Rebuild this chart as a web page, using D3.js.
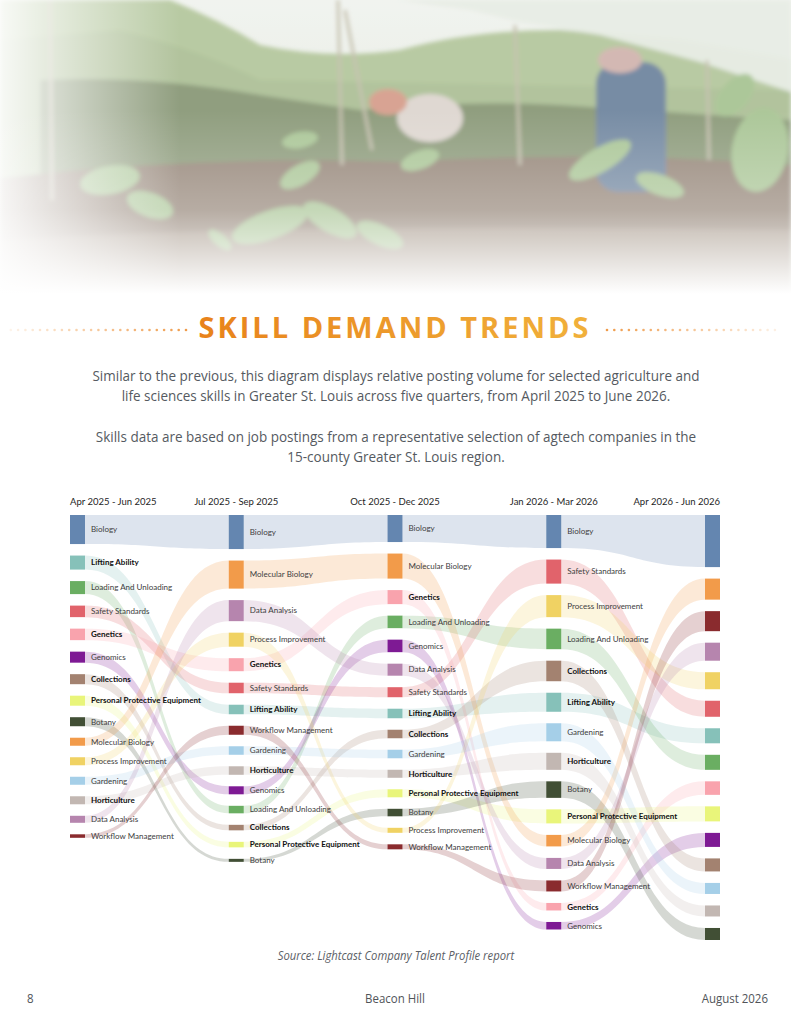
<!DOCTYPE html>
<html>
<head>
<meta charset="utf-8">
<script src="https://cdn.jsdelivr.net/npm/d3@7"></script>
<style>
  html, body { margin: 0; padding: 0; background: #fff; }
  svg { display: block; }
</style>
</head>
<body>
<script>
// quarters shown as columns
var quarters = ["Apr 2025 - Jun 2025", "Jul 2025 - Sep 2025", "Oct 2025 - Dec 2025", "Jan 2026 - Mar 2026", "Apr 2026 - Jun 2026"];

var skills = ["Biology", "Lifting Ability", "Loading And Unloading", "Safety Standards", "Genetics", "Genomics",
  "Collections", "Personal Protective Equipment", "Botany", "Molecular Biology", "Process Improvement",
  "Gardening", "Horticulture", "Data Analysis", "Workflow Management"];

var skillColors = ["#6486b0", "#86c1b9", "#6aae62", "#e1636b", "#f9a3ad", "#7e1a94",
  "#a38270", "#e9f57a", "#414f35", "#f29b4a", "#f0d263",
  "#a5cfe8", "#c2b7b2", "#b685ae", "#8a2b2e"];

var boldSkills = ["Lifting Ability", "Genetics", "Collections", "Personal Protective Equipment", "Horticulture"];

// relative posting volume per quarter, listed in ranked order (top to bottom)
var q1 = [["Biology", 29], ["Lifting Ability", 14], ["Loading And Unloading", 13], ["Safety Standards", 11.5],
  ["Genetics", 11.5], ["Genomics", 11], ["Collections", 10], ["Personal Protective Equipment", 10], ["Botany", 9],
  ["Molecular Biology", 8], ["Process Improvement", 8], ["Gardening", 8], ["Horticulture", 8],
  ["Data Analysis", 7], ["Workflow Management", 3.5]];
var q2 = [["Biology", 34], ["Molecular Biology", 28], ["Data Analysis", 21], ["Process Improvement", 14],
  ["Genetics", 13], ["Safety Standards", 10.5], ["Lifting Ability", 9.5], ["Workflow Management", 9],
  ["Gardening", 8.5], ["Horticulture", 8.5], ["Genomics", 8], ["Loading And Unloading", 7.5],
  ["Collections", 5.5], ["Personal Protective Equipment", 5.5], ["Botany", 3]];
var q3 = [["Biology", 27], ["Molecular Biology", 25], ["Genetics", 14], ["Loading And Unloading", 12.5],
  ["Genomics", 12.5], ["Data Analysis", 12], ["Safety Standards", 10], ["Lifting Ability", 9.5],
  ["Collections", 8.5], ["Gardening", 8.5], ["Horticulture", 8], ["Personal Protective Equipment", 8],
  ["Botany", 7.5], ["Process Improvement", 5], ["Workflow Management", 5]];
var q4 = [["Biology", 33], ["Safety Standards", 24], ["Process Improvement", 22], ["Loading And Unloading", 20.5],
  ["Collections", 20.5], ["Lifting Ability", 19], ["Gardening", 18], ["Horticulture", 17], ["Botany", 16.5],
  ["Personal Protective Equipment", 14], ["Molecular Biology", 11.5], ["Data Analysis", 11],
  ["Workflow Management", 11], ["Genetics", 7.5], ["Genomics", 7.5]];
var q5 = [["Biology", 52], ["Molecular Biology", 21], ["Workflow Management", 20], ["Data Analysis", 18],
  ["Process Improvement", 17], ["Safety Standards", 16], ["Lifting Ability", 15], ["Loading And Unloading", 15],
  ["Genetics", 13.5], ["Personal Protective Equipment", 15], ["Genomics", 14], ["Collections", 13],
  ["Gardening", 11], ["Horticulture", 11], ["Botany", 12]];

var quarterValues = [q1, q2, q3, q4, q5];

var pageWidth = 791;
var pageHeight = 1024;
var chartTop = 515;
var chartHeight = 425;
var nodePadding = 11.5;
var nodeWidth = 15;
var bodyFont = "'Open Sans', sans-serif";

var svg = d3.select("body").append("svg")
  .attr("width", pageWidth)
  .attr("height", pageHeight);

var defs = svg.append("defs");

// narrow text: the page font is a condensed face, so squeeze Open Sans horizontally
function narrowText(parent, x, y, anchor, size, squeeze, str) {
  return parent.append("text")
    .attr("x", x).attr("y", y)
    .attr("text-anchor", anchor)
    .attr("font-family", bodyFont)
    .attr("font-size", size)
    .attr("transform", "translate(" + x + ",0) scale(" + squeeze + ",1) translate(" + (-x) + ",0)")
    .text(str);
}

// ---------- header photo (soft approximation) ----------
var sky = defs.append("linearGradient").attr("id", "sky").attr("x1", 0).attr("y1", 0).attr("x2", 0).attr("y2", 1);
sky.append("stop").attr("offset", "0%").attr("stop-color", "#eef1ec");
sky.append("stop").attr("offset", "100%").attr("stop-color", "#d5ddcd");

var fadeDown = defs.append("linearGradient").attr("id", "fadeDown").attr("x1", 0).attr("y1", 0).attr("x2", 0).attr("y2", 1);
fadeDown.append("stop").attr("offset", "0%").attr("stop-color", "#fff").attr("stop-opacity", 0);
fadeDown.append("stop").attr("offset", "50%").attr("stop-color", "#fff").attr("stop-opacity", 0.3);
fadeDown.append("stop").attr("offset", "92%").attr("stop-color", "#fff").attr("stop-opacity", 1);
fadeDown.append("stop").attr("offset", "100%").attr("stop-color", "#fff").attr("stop-opacity", 1);

var fadeLeft = defs.append("linearGradient").attr("id", "fadeLeft").attr("x1", 0).attr("y1", 0).attr("x2", 1).attr("y2", 0);
fadeLeft.append("stop").attr("offset", "0%").attr("stop-color", "#fff").attr("stop-opacity", 0.9);
fadeLeft.append("stop").attr("offset", "100%").attr("stop-color", "#fff").attr("stop-opacity", 0);

defs.append("filter").attr("id", "soft").append("feGaussianBlur").attr("stdDeviation", 2.2);
defs.append("clipPath").attr("id", "photoClip").append("rect").attr("width", pageWidth).attr("height", 305);

var photo = svg.append("g").attr("id", "photo").attr("clip-path", "url(#photoClip)");
photo.append("rect").attr("width", pageWidth).attr("height", 310).attr("fill", "url(#sky)");

var scene = photo.append("g").attr("filter", "url(#soft)");
// distant hills
scene.append("path").attr("fill", "#a7bd8c")
  .attr("d", "M0,0 L170,0 Q220,20 260,45 Q330,60 400,50 Q470,30 560,30 L680,40 L791,60 L791,200 L0,200 Z");
scene.append("path").attr("fill", "#9db383").attr("opacity", 0.8)
  .attr("d", "M0,40 L120,30 Q200,50 260,80 L791,90 L791,200 L0,200 Z");
// hedge band
scene.append("path").attr("fill", "#75865f")
  .attr("d", "M40,80 Q150,75 260,95 L360,110 Q470,100 560,105 L791,120 L791,220 L40,220 Z");
// soil bed
scene.append("path").attr("fill", "#7f6c5b")
  .attr("d", "M0,178 Q200,155 400,162 Q600,150 791,165 L791,320 L0,320 Z");
scene.append("path").attr("fill", "#948271").attr("opacity", 0.8)
  .attr("d", "M0,240 Q300,222 791,230 L791,320 L0,320 Z");
// canopy sheet
scene.append("path").attr("fill", "#e3e9df").attr("opacity", 0.95)
  .attr("d", "M395,0 L791,0 L791,92 L700,62 L600,35 L520,22 L470,10 Z");
// poles
[[50, 0, 52, 200], [338, 0, 342, 165], [345, 10, 372, 150], [515, 25, 520, 165], [707, 60, 709, 160]].forEach(function(p) {
  scene.append("line").attr("x1", p[0]).attr("y1", p[1]).attr("x2", p[2]).attr("y2", p[3])
    .attr("stroke", "#b9b49e").attr("stroke-width", 3);
});
// workers
scene.append("ellipse").attr("cx", 430).attr("cy", 118).attr("rx", 33).attr("ry", 24).attr("fill", "#d8cfc7");
scene.append("ellipse").attr("cx", 388).attr("cy", 102).attr("rx", 19).attr("ry", 13).attr("fill", "#cf8d78");
scene.append("rect").attr("x", 596).attr("y", 62).attr("width", 70).attr("height", 130).attr("rx", 22).attr("fill", "#56708e");
scene.append("ellipse").attr("cx", 620).attr("cy", 60).attr("rx", 22).attr("ry", 13).attr("fill", "#c9a7a0");
// seedlings
[[270, 225, 40, 14, -20], [300, 175, 22, 10, -30], [330, 220, 30, 12, 30], [110, 180, 30, 14, -10], [150, 205, 24, 12, 20],
 [600, 160, 35, 12, -30], [735, 95, 25, 14, -50], [760, 150, 28, 42, 10], [660, 185, 25, 10, 20], [380, 235, 25, 10, 25],
 [300, 140, 18, 8, -10], [420, 160, 20, 9, -20], [220, 240, 14, 6, 40]].forEach(function(l) {
  scene.append("ellipse").attr("cx", l[0]).attr("cy", l[1]).attr("rx", l[2]).attr("ry", l[3])
    .attr("transform", "rotate(" + l[4] + "," + l[0] + "," + l[1] + ")")
    .attr("fill", "#98ba80");
});
photo.append("rect").attr("width", pageWidth).attr("height", 310).attr("fill", "#fff").attr("opacity", 0.2);
photo.append("rect").attr("width", 180).attr("height", 310).attr("fill", "url(#fadeLeft)");
photo.append("rect").attr("y", 110).attr("width", pageWidth).attr("height", 200).attr("fill", "url(#fadeDown)");

// ---------- title ----------
var titleGrad = defs.append("linearGradient").attr("id", "titleGrad").attr("x1", 0).attr("y1", 0).attr("x2", 1).attr("y2", 0);
titleGrad.append("stop").attr("offset", "0%").attr("stop-color", "#e8821b");
titleGrad.append("stop").attr("offset", "100%").attr("stop-color", "#f1b13b");

svg.append("text")
  .attr("x", 395).attr("y", 338)
  .attr("text-anchor", "middle")
  .attr("font-family", bodyFont)
  .attr("font-weight", 700)
  .attr("font-size", 29)
  .attr("letter-spacing", 3)
  .attr("fill", "url(#titleGrad)")
  .text("SKILL DEMAND TRENDS");

// dotted rules either side of the title
var dotsLeft = d3.range(186, 10, -7.3);
var dotsRight = d3.range(607, 782, 7.3);
var dotFade = d3.scaleLinear().domain([0, 24]).range([1, 0.12]);
svg.append("g").selectAll("circle").data(dotsLeft).enter().append("circle")
  .attr("cx", d => d).attr("cy", 330).attr("r", 1.3)
  .attr("fill", "#ef9b4a").attr("opacity", (d, i) => dotFade(i));
svg.append("g").selectAll("circle").data(dotsRight).enter().append("circle")
  .attr("cx", d => d).attr("cy", 330).attr("r", 1.3)
  .attr("fill", "#ef9b4a").attr("opacity", (d, i) => dotFade(i));

// intro paragraphs
var introLines = [
  "Similar to the previous, this diagram displays relative posting volume for selected agriculture and",
  "life sciences skills in Greater St. Louis across five quarters, from April 2025 to June 2026.",
  "Skills data are based on job postings from a representative selection of agtech companies in the",
  "15-county Greater St. Louis region."
];
var introY = [381, 401, 442, 462];
var intro = svg.append("g").attr("fill", "#555a61");
introLines.forEach(function(line, i) {
  narrowText(intro, 396, introY[i], "middle", 15, 0.9, line);
});

// ---------- bump / flow chart ----------
var xScale = d3.scalePoint()
  .domain(quarters)
  .range([70, 705]);

var columnTotals = quarterValues.map(q => d3.sum(q, d => d[1]));
var maxNodes = d3.max(quarterValues, q => q.length);
var yScale = d3.scaleLinear()
  .domain([0, d3.max(columnTotals)])
  .range([0, chartHeight - (maxNodes - 1) * nodePadding]);

var colorScale = d3.scaleOrdinal().domain(skills).range(skillColors);

// stack each quarter's nodes
var nodes = [];
quarterValues.forEach(function(q, qi) {
  var y = chartTop;
  q.forEach(function(d) {
    var h = yScale(d[1]);
    nodes.push({ skill: d[0], value: d[1], quarter: quarters[qi], qi: qi, x: xScale(quarters[qi]), y0: y, y1: y + h });
    y += h + nodePadding;
  });
});

function findNode(skill, qi) {
  return nodes.filter(n => n.skill == skill && n.qi == qi)[0];
}

var links = [];
for (var qi = 0; qi < quarters.length - 1; qi++) {
  skills.forEach(function(s) {
    var a = findNode(s, qi);
    var b = findNode(s, qi + 1);
    if (a && b) links.push({ skill: s, source: a, target: b });
  });
}

function ribbon(l) {
  var x0 = l.source.x + nodeWidth;
  var x1 = l.target.x;
  var xm = (x0 + x1) / 2;
  var p = d3.path();
  p.moveTo(x0, l.source.y0);
  p.bezierCurveTo(xm, l.source.y0, xm, l.target.y0, x1, l.target.y0);
  p.lineTo(x1, l.target.y1);
  p.bezierCurveTo(xm, l.target.y1, xm, l.source.y1, x0, l.source.y1);
  p.closePath();
  return p.toString();
}

var chart = svg.append("g").attr("id", "chart");

chart.append("g").attr("class", "links")
  .selectAll("path")
  .data(links)
  .enter()
    .append("path")
    .attr("d", ribbon)
    .attr("fill", d => colorScale(d.skill))
    .attr("fill-opacity", 0.22);

chart.append("g").attr("class", "nodes")
  .selectAll("rect")
  .data(nodes)
  .enter()
    .append("rect")
    .attr("x", d => d.x)
    .attr("y", d => d.y0)
    .attr("width", nodeWidth)
    .attr("height", d => d.y1 - d.y0)
    .attr("fill", d => colorScale(d.skill));

chart.append("g").attr("class", "labels")
  .selectAll("text")
  .data(nodes.filter(d => d.qi < quarters.length - 1))
  .enter()
    .append("text")
    .attr("x", d => d.x + nodeWidth + 6)
    .attr("y", d => (d.y0 + d.y1) / 2)
    .attr("dy", "0.35em")
    .attr("font-family", "Lato, sans-serif")
    .attr("font-size", 8)
    .attr("font-weight", d => boldSkills.indexOf(d.skill) >= 0 ? 700 : 400)
    .attr("fill", d => boldSkills.indexOf(d.skill) >= 0 ? "#111" : "#3d3d3d")
    .text(d => d.skill);

// column headers
chart.append("g").attr("class", "headers")
  .selectAll("text")
  .data(quarters)
  .enter()
    .append("text")
    .attr("x", (d, i) => i == 0 ? xScale(d) : i == quarters.length - 1 ? xScale(d) + nodeWidth : xScale(d) + nodeWidth / 2)
    .attr("y", 505)
    .attr("text-anchor", (d, i) => i == 0 ? "start" : i == quarters.length - 1 ? "end" : "middle")
    .attr("font-family", "Lato, sans-serif")
    .attr("font-size", 9.5)
    .attr("fill", "#1e1e1e")
    .text(d => d);

// ---------- source + footer ----------
narrowText(svg, 396, 960, "middle", 12, 0.94, "Source: Lightcast Company Talent Profile report")
  .attr("font-style", "italic")
  .attr("fill", "#5b6066");

var footer = svg.append("g").attr("fill", "#505459");
narrowText(footer, 27, 1003, "start", 13.5, 0.85, "8");
narrowText(footer, 395, 1003, "middle", 13.5, 0.85, "Beacon Hill");
narrowText(footer, 768, 1003, "end", 13.5, 0.85, "August 2026");
</script>
</body>
</html>
